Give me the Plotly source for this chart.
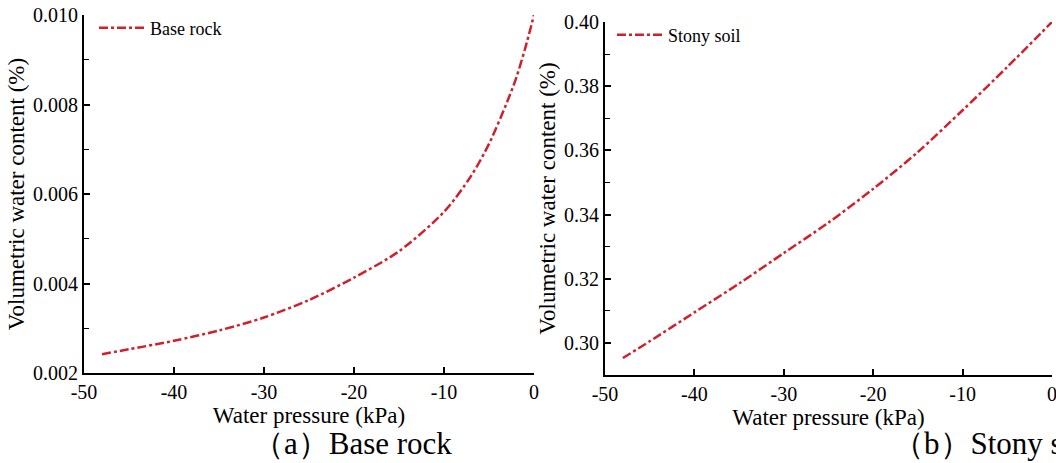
import plotly.graph_objects as go

# Data
pressure_rock = [-48, -45, -40, -35, -30, -25, -20, -15, -10, -7, -5, -3, -2, -1, 0]
vwc_rock = [0.00242, 0.00253, 0.00272, 0.00295, 0.00324, 0.00363, 0.00413, 0.00472,
            0.00560, 0.00640, 0.00712, 0.00805, 0.00858, 0.00924, 0.01000]

pressure_soil = [-48, -45, -40, -35, -30, -25, -20, -15, -10, -5, 0]
vwc_soil = [0.2953, 0.3005, 0.3095, 0.3185, 0.3280, 0.3375, 0.3480, 0.3595, 0.3725, 0.3860, 0.4000]

x_ticks = [-50, -40, -30, -20, -10, 0]
x_tick_text = ["-50", "-40", "-30", "-20", "-10", "0"]
rock_ticks = [0.002, 0.004, 0.006, 0.008, 0.010]
soil_ticks = [0.30, 0.32, 0.34, 0.36, 0.38, 0.40]

W, H = 1056, 463
RED = "#d0202c"
FONT = "Liberation Serif"

fig = go.Figure()
fig.add_trace(go.Scatter(x=pressure_rock, y=vwc_rock, mode="lines", name="Base rock",
                         line=dict(color=RED, width=2.5, dash="dashdot", shape="spline", smoothing=0.8),
                         xaxis="x", yaxis="y", legend="legend"))
fig.add_trace(go.Scatter(x=pressure_soil, y=vwc_soil, mode="lines", name="Stony soil",
                         line=dict(color=RED, width=2.5, dash="dashdot", shape="spline", smoothing=0.8),
                         xaxis="x2", yaxis="y2", legend="legend2"))

def px_x(p):
    return p / W

def px_y(p):
    return 1 - p / H

axis_common = dict(showline=True, linecolor="black", linewidth=1.8, ticks="inside",
                   ticklen=6, tickwidth=1.5, tickcolor="black", showgrid=False,
                   zeroline=False, tickfont=dict(family=FONT, size=20, color="black"),
                   mirror=False, automargin=False, ticklabeloverflow="allow")
title_font = dict(family=FONT, size=23, color="black")

fig.update_layout(
    width=W, height=H,
    margin=dict(l=0, r=0, t=0, b=0),
    paper_bgcolor="white", plot_bgcolor="white",
    font=dict(family=FONT, color="black"),
    xaxis=dict(domain=[px_x(84), px_x(534)], range=[-50, 0], tickvals=x_ticks,
               ticktext=x_tick_text, anchor="y",
               title=dict(text="Water pressure (kPa)", standoff=0, font=title_font), **axis_common),
    yaxis=dict(domain=[px_y(373), px_y(15)], range=[0.002, 0.010], tickvals=rock_ticks,
               tickformat=".3f", anchor="x",
               minor=dict(ticks="inside", ticklen=5, tickwidth=1.3, tickcolor="black", dtick=0.001),
               title=dict(text="Volumetric water content (%)", standoff=2, font=title_font),
               **axis_common),
    xaxis2=dict(domain=[px_x(605), px_x(1052)], range=[-50, 0], tickvals=x_ticks,
                ticktext=x_tick_text, anchor="y2",
                title=dict(text="Water pressure (kPa)", standoff=0, font=title_font), **axis_common),
    yaxis2=dict(domain=[px_y(375), px_y(22)], range=[0.29, 0.40], tickvals=soil_ticks,
                tickformat=".2f", anchor="x2",
                minor=dict(ticks="inside", ticklen=5, tickwidth=1.3, tickcolor="black", dtick=0.01),
                title=dict(text="Volumetric water content (%)", standoff=2, font=title_font),
                **axis_common),
    showlegend=True,
    legend=dict(x=px_x(94), y=px_y(28), xanchor="left", yanchor="middle", itemwidth=46,
                bgcolor="rgba(0,0,0,0)", font=dict(family=FONT, size=18, color="black")),
    legend2=dict(x=px_x(612), y=px_y(35), xanchor="left", yanchor="middle", itemwidth=46,
                 bgcolor="rgba(0,0,0,0)", font=dict(family=FONT, size=18, color="black")),
)

fig.add_annotation(text="（a）Base rock", x=px_x(352), y=0, xref="paper", yref="paper",
                   showarrow=False, xanchor="center", yanchor="bottom",
                   font=dict(family=FONT, size=31, color="black"))
fig.add_annotation(text="（b）Stony soil", x=px_x(891), y=0, xref="paper", yref="paper",
                   showarrow=False, xanchor="left", yanchor="bottom",
                   font=dict(family=FONT, size=31, color="black"))

fig.write_html("out.html")
